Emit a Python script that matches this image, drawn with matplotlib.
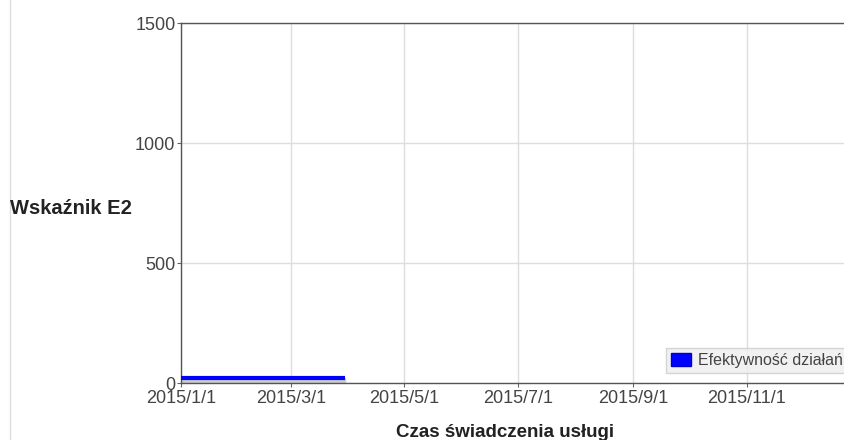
import matplotlib
matplotlib.use('Agg')
import matplotlib.pyplot as plt
import matplotlib.dates as mdates
from matplotlib.patches import Patch
import numpy as np

plt.rcParams['font.family'] = ['Liberation Sans', 'DejaVu Sans']

# series data
dates = np.array(['2015-01-01', '2015-03-30'], dtype='datetime64[D]')
values = [20, 20]
series_name = 'Efektywność działań'
tick_dates = np.array(['2015-01-01', '2015-03-01', '2015-05-01',
                       '2015-07-01', '2015-09-01', '2015-11-01'], dtype='datetime64[D]')
tick_labels = ['2015/1/1', '2015/3/1', '2015/5/1', '2015/7/1', '2015/9/1', '2015/11/1']
yticks = [0, 500, 1000, 1500]

fig = plt.figure(figsize=(8.45, 4.4), dpi=100)
# plot area continues past the right edge (cropped in the original)
ax = fig.add_axes([181/845, 57/440, 679/845, 360/440])

ax.fill_between(dates, values, 0, color='#cccccc', zorder=2)
ax.plot(dates, values, color='#0000ff', lw=3, zorder=3, solid_capstyle='butt')

ax.set_xlim(np.datetime64('2015-01-01'), np.datetime64('2016-01-01'))
ax.set_ylim(0, 1500)
ax.set_xticks(tick_dates)
ax.set_xticklabels(tick_labels)
ax.set_yticks(yticks)
ax.grid(True, color='#dddddd', lw=1, zorder=0)
ax.tick_params(axis='both', length=3, color='#666666', labelsize=13,
               labelcolor='#444444')
ax.tick_params(axis='x', pad=2)
ax.tick_params(axis='y', pad=1)
for s in ax.spines.values():
    s.set_color('#555555')
    s.set_linewidth(1)
ax.spines['right'].set_visible(False)

fig.text(505/845, 1 - 432/440, 'Czas świadczenia usługi', fontsize=13.5,
         fontweight='bold', color='#222222', va='center', ha='center')
fig.text(10/845, 1 - 208/440, 'Wskaźnik E2', fontsize=14.5, fontweight='bold',
         color='#222222', va='center', ha='left')

# thin border line on left
fig.add_artist(plt.Line2D([10/845, 10/845], [0, 1], color='#dddddd', lw=1))

leg = ax.legend(handles=[Patch(facecolor='#0000ff', edgecolor='#0000cc')],
                labels=[series_name], loc='lower left',
                bbox_to_anchor=(0.714, 0.028), fontsize=11.5,
                frameon=True, fancybox=False, handlelength=1.3,
                handleheight=0.8, borderpad=0.3, handletextpad=0.4,
                borderaxespad=0)
leg.get_frame().set_facecolor('#eeeeee')
leg.get_frame().set_edgecolor('#cccccc')
for t in leg.get_texts():
    t.set_color('#444444')

fig.savefig('out.png', dpi=100)
